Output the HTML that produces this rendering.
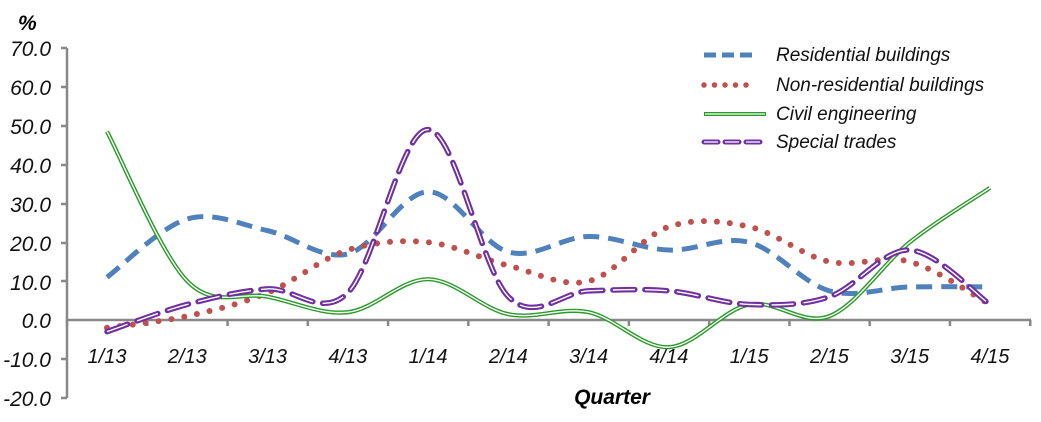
<!DOCTYPE html>
<html><head><meta charset="utf-8"><style>
body{margin:0;background:#fff;width:1041px;height:417px;overflow:hidden}
text{font-family:"Liberation Sans",sans-serif;font-style:italic}
</style></head><body>
<svg id="s" width="1041" height="417" xmlns="http://www.w3.org/2000/svg">
<g font-size="21" fill="#111" text-anchor="end">
<text x="51" y="56">70.0</text><text x="51" y="95">60.0</text><text x="51" y="134">50.0</text>
<text x="51" y="173">40.0</text><text x="51" y="212">30.0</text><text x="51" y="251">20.0</text>
<text x="51" y="290">10.0</text><text x="51" y="328">0.0</text><text x="51" y="367">-10.0</text>
<text x="51" y="406">-20.0</text>
</g>
<text x="18" y="30" font-size="21" font-weight="bold">%</text>
<path d="M67 48V398M61 48H67M61 87H67M61 126H67M61 165H67M61 204H67M61 243H67M61 281H67M61 359H67M61 398H67M67 320H1031" stroke="#888" stroke-width="2.5" fill="none"/>
<g id="xt" stroke="#888" stroke-width="2.5"></g>
<g id="xl" font-size="20" fill="#111" text-anchor="middle"></g>
<text x="612" y="404" font-size="21" font-weight="bold" text-anchor="middle">Quarter</text>
<g id="lines"></g>
<g font-size="19" fill="#111">
<path d="M704 55H756" stroke="#4f81bd" stroke-width="5" stroke-dasharray="12,6"/>
<text x="776" y="61">Residential buildings</text>
<path d="M704 85H756" stroke="#c0504d" stroke-width="5.5" stroke-dasharray="0,10.5" stroke-linecap="round"/>
<text x="776" y="91">Non-residential buildings</text>
<path d="M704 114H766" stroke="#2a9a2a" stroke-width="4"/><path d="M705 114H765" stroke="#fff" stroke-width="1.3"/>
<text x="776" y="120">Civil engineering</text>
<path d="M704 142H764" stroke="#7030a0" stroke-width="5" stroke-dasharray="14,7" stroke-linecap="round"/>
<path d="M704 142H764" stroke="#fff" stroke-width="1.3" stroke-dasharray="14,7"/>
<text x="776" y="148">Special trades</text>
</g>
</svg>
<script>
var ns="http://www.w3.org/2000/svg";
function X(i){return 107+80.27*i}
function Y(v){return 320-v*3.886}
var lab=["1/13","2/13","3/13","4/13","1/14","2/14","3/14","4/14","1/15","2/15","3/15","4/15"];
var xt=document.getElementById("xt"),xl=document.getElementById("xl");
for(var i=0;i<=12;i++){var l=document.createElementNS(ns,"line");var x=67+80.27*i;l.setAttribute("x1",x);l.setAttribute("x2",x);l.setAttribute("y1",320);l.setAttribute("y2",326);xt.appendChild(l);}
lab.forEach(function(t,i){var e=document.createElementNS(ns,"text");e.setAttribute("x",X(i));e.setAttribute("y",363);e.textContent=t;xl.appendChild(e);});
function path(d){var p=d.map(function(v,i){return[X(i),Y(v)]});var s="M"+p[0][0]+" "+p[0][1];
for(var i=0;i<p.length-1;i++){var p0=p[i-1]||p[i],p1=p[i],p2=p[i+1],p3=p[i+2]||p2;
s+="C"+(p1[0]+(p2[0]-p0[0])/6)+" "+(p1[1]+(p2[1]-p0[1])/6)+" "+(p2[0]-(p3[0]-p1[0])/6)+" "+(p2[1]-(p3[1]-p1[1])/6)+" "+p2[0]+" "+p2[1];}return s;}
var g=document.getElementById("lines");
function add(d,st){var e=document.createElementNS(ns,"path");e.setAttribute("d",d);e.setAttribute("fill","none");for(var k in st)e.setAttribute(k,st[k]);g.appendChild(e);}
var res=[11,26,23,17,33,17.5,21.5,18,20,7.5,8.5,8.5];
var non=[-2,1,7,18,20,14,10,24,24,15,15,4];
var civ=[48.5,10,6,2,10.5,1.5,2,-7,4,1,20,34];
var spe=[-3,4,8,7,49,6,7.5,7.5,4,6,18,4];
add(path(res),{stroke:"#4f81bd","stroke-width":5,"stroke-dasharray":"16,9"});
add(path(non),{stroke:"#c0504d","stroke-width":6,"stroke-dasharray":"0,13","stroke-linecap":"round"});
add(path(civ),{stroke:"#2a9a2a","stroke-width":4.2});
add(path(civ),{stroke:"#fff","stroke-width":1.4});
add(path(spe),{stroke:"#7030a0","stroke-width":5.5,"stroke-dasharray":"22,10","stroke-linecap":"round"});
add(path(spe),{stroke:"#fff","stroke-width":1.4,"stroke-dasharray":"22,10"});
</script>
</body></html>
